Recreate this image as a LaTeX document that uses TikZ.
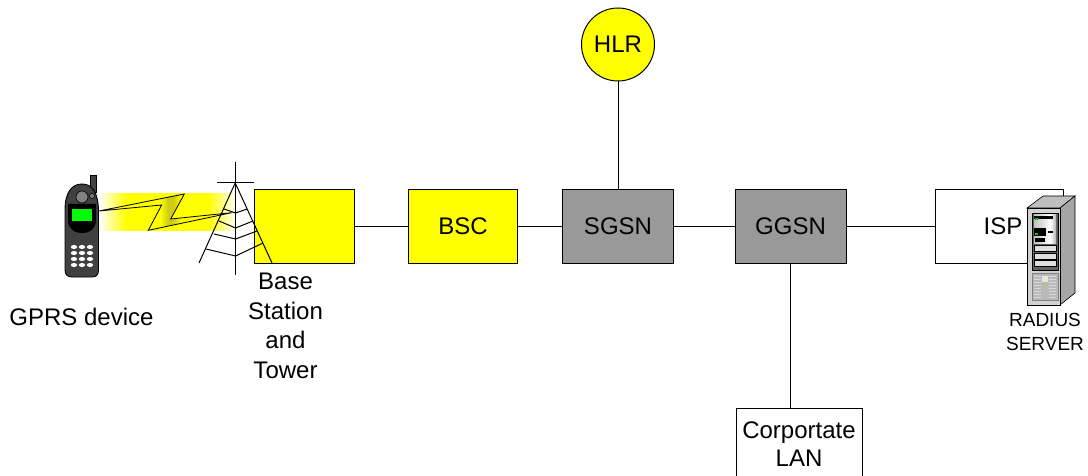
\documentclass[tikz,border=0pt]{standalone}
\usepackage{fontspec}
\setmainfont{Liberation Sans}
\definecolor{yel}{RGB}{255,255,0}
\definecolor{gbox}{RGB}{153,153,153}
\definecolor{phone}{RGB}{64,64,64}
\definecolor{olivey}{RGB}{205,205,20}
\pgfdeclarehorizontalshading{boltshade}{100bp}{color(0bp)=(white); color(25bp)=(white); color(35bp)=(yel); color(48bp)=(yel); color(51bp)=(olivey); color(53bp)=(olivey); color(56bp)=(yel); color(66bp)=(yel); color(75bp)=(white!60!yel); color(100bp)=(white!60!yel)}
\pgfdeclarehorizontalshading{beamshade}{100bp}{color(0bp)=(white); color(25bp)=(white); color(35bp)=(yel); color(65bp)=(yel); color(75bp)=(white); color(100bp)=(white)}
\pgfdeclarehorizontalshading{drive}{100bp}{color(0bp)=(gray!50); color(25bp)=(gray!50); color(48bp)=(gray!20); color(62bp)=(white); color(75bp)=(gray!60); color(100bp)=(gray!60)}
\tikzset{
 netbox/.style={draw=black,line width=1pt,minimum height=73pt,inner sep=0pt,font=\fontsize{24}{28}\selectfont},
 link/.style={draw=black,line width=1pt},
 towerline/.style={draw=black,line width=1pt},
 lbl/.style={align=center,inner sep=0pt,font=\fontsize{24}{29.5}\selectfont},
 small/.style={align=center,inner sep=0pt,font=\fontsize{19}{24}\selectfont},
 srv/.style={draw=black,line width=0.6pt}
}
\begin{document}
\begin{tikzpicture}[x=1pt,y=-1pt]
\useasboundingbox (0,0) rectangle (1088,476);
\node[netbox,fill=yel,minimum width=100pt] (bs) at (304,226.5) {};
\node[netbox,fill=yel,minimum width=109pt] (bsc) at (463,226.5) {BSC};
\node[netbox,fill=gbox,minimum width=111pt] (sgsn) at (618,226.5) {SGSN};
\node[netbox,fill=gbox,minimum width=111pt] (ggsn) at (790.5,226.5) {GGSN};
\node[netbox,fill=white,minimum width=128pt] (isp) at (999,226.5) {\hspace*{8pt}ISP};
\node[draw=black,line width=1pt,fill=yel,circle,minimum size=73pt,inner sep=0pt,font=\fontsize{24}{28}\selectfont] (hlr) at (618,44.5) {HLR};
\node[draw=black,line width=1pt,fill=white,minimum width=126pt,minimum height=72pt,inner sep=0pt,align=center,font=\fontsize{24}{28}\selectfont] (lan) at (799,444) {Corportate\\LAN};
\draw[link] (bs) -- (bsc);
\draw[link] (bsc) -- (sgsn);
\draw[link] (sgsn) -- (ggsn);
\draw[link] (ggsn) -- (isp);
\draw[link] (hlr) -- (sgsn);
\draw[link] (ggsn.south) -- (ggsn.south |- lan.north);
% radio beam
\shade[shading=beamshade] (99,194) rectangle (236,231);
% lightning
\shade[shading=boltshade,draw=black,line width=0.8pt,line join=miter] (99,211) -- (184.3,194) -- (170.7,219) -- (231.7,212.7) -- (148.3,230.3) -- (161.7,205) -- cycle;
% tower
\draw[towerline] (235.6,162) -- (235.6,275);
\draw[towerline] (217,183) -- (254,183);
\draw[towerline] (199,263) -- (235.2,183) -- (272,263);
\draw[towerline] (224,209) -- (235.6,213) -- (247,209);
\draw[towerline] (219,221) -- (235.6,228) -- (253,221);
\draw[towerline] (214,234) -- (235.6,239) -- (257,231);
\draw[towerline] (206,249) -- (235.6,256) -- (263,243);
% phone
\filldraw[fill=phone,draw=black,line width=0.7pt] (90.5,192) rectangle (96.5,175);
\filldraw[fill=phone,draw=black,line width=0.9pt] (65,210) .. controls (65,192) and (72,184) .. (82,184) .. controls (92,184) and (98,192) .. (98.5,210) -- (98.5,270) .. controls (98.5,275) and (96,277) .. (92,277) -- (72,277) .. controls (68,277) and (65,275) .. (65,270) -- cycle;
\fill[black] (68,204) -- (96,204) -- (96,222) .. controls (94,231) and (88,233) .. (82,233) .. controls (76,233) and (70,231) .. (68,222) -- cycle;
\fill[green] (72,209) rectangle (92,221);
\filldraw[fill=gray,draw=black,line width=0.6pt] (82,197) circle (6pt);
\filldraw[fill=gray,draw=black,line width=0.6pt] (92,196) circle (2.5pt);
\foreach \yy in {247,253,259,265}{\foreach \xx in {74,82,90}{\fill[white] (\xx,\yy) ellipse (3.2pt and 2pt);}}
% server
\filldraw[fill=gray!50,srv] (1027,208) -- (1043,196) -- (1075,196) -- (1060,208) -- cycle;
\filldraw[fill=gray!70,srv] (1060,208) -- (1075,196) -- (1075,293) -- (1060,305) -- cycle;
\filldraw[fill=gray!35,srv] (1027,208) rectangle (1060,305);
\filldraw[fill=gray!75!black,srv] (1032,213) rectangle (1058,270);
\shade[shading=drive] (1034,215) rectangle (1056,243);
\fill[black] (1034,216) rectangle (1053,219);
\fill[black] (1034,228) rectangle (1046,236);
\fill[black] (1035,238) rectangle (1045,242);
\fill[green!80!black] (1035,218) rectangle (1038,220);
\fill[green!80!black] (1035,233) rectangle (1038,235);
\fill[black] (1048,231) rectangle (1053,233);
\foreach \yy in {245,253,260}{\filldraw[fill=gray!25,srv] (1034,\yy) rectangle (1056,\yy+6);}
\filldraw[fill=gray!55,draw=gray,line width=0.4pt] (1032,273) rectangle (1058,300);
\foreach \yy in {276,279,...,297}{\draw[gray!30,line width=0.7pt] (1034,\yy) -- (1041,\yy); \draw[gray!30,line width=0.7pt] (1049,\yy) -- (1056,\yy);}
\fill[white!80!gray] (1042,276) rectangle (1048,282);
\fill[yellow!70!green] (1045,285) circle (1.5pt);
% labels
\node[lbl] (gprs) at (81.5,317) {GPRS device};
\node[lbl] (bst) at (285.5,326) {Base\\Station\\and\\Tower};
\node[small] (rad) at (1045,332) {RADIUS\\SERVER};
\end{tikzpicture}
\end{document}
